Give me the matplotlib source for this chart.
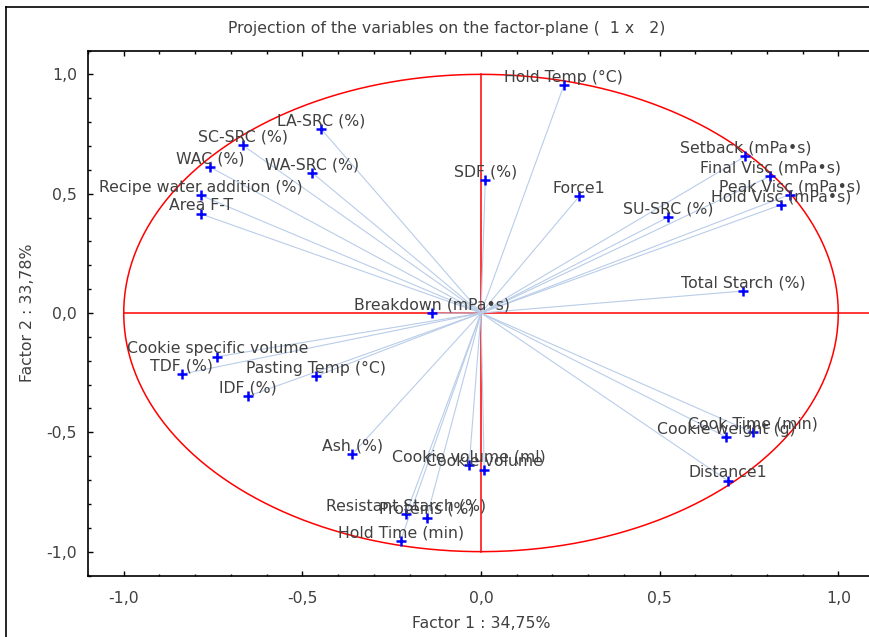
import numpy as np
import matplotlib
matplotlib.use("Agg")
import matplotlib.pyplot as plt
from matplotlib.lines import Line2D
from matplotlib.ticker import MultipleLocator, FuncFormatter

# factor loadings of each variable on factors 1 and 2
variables = [
    "LA-SRC (%)", "SC-SRC (%)", "WAC (%)", "WA-SRC (%)",
    "Recipe water addition (%)", "Area F-T", "SDF (%)", "Breakdown (mPa\u2022s)",
    "Hold Temp (\u00b0C)", "Force1", "SU-SRC (%)", "Setback (mPa\u2022s)",
    "Final Visc (mPa\u2022s)", "Peak Visc (mPa\u2022s)", "Hold Visc (mPa\u2022s)",
    "Total Starch (%)", "Cookie specific volume", "TDF (%)",
    "Pasting Temp (\u00b0C)", "IDF (%)", "Ash (%)", "Cookie volume (ml)",
    "Cookie volume", "Resistant Starch (%)", "Proteins (%)",
    "Hold Time (min)", "Cookie weight (g)", "Cook Time (min)", "Distance1",
]
factor1 = [
    -0.448, -0.667, -0.758, -0.472, -0.784, -0.784, 0.012, -0.138,
    0.232, 0.275, 0.524, 0.740, 0.810, 0.864, 0.841, 0.733,
    -0.738, -0.837, -0.462, -0.653, -0.360, -0.033, 0.009,
    -0.210, -0.152, -0.225, 0.687, 0.760, 0.690,
]
factor2 = [
    0.772, 0.703, 0.611, 0.587, 0.493, 0.415, 0.556, -0.001,
    0.954, 0.489, 0.402, 0.657, 0.574, 0.496, 0.454, 0.092,
    -0.183, -0.256, -0.265, -0.349, -0.591, -0.636, -0.657,
    -0.842, -0.857, -0.954, -0.520, -0.500, -0.702,
]
x_label = "Factor 1 : 34,75%"
y_label = "Factor 2 : 33,78%"
title = "Projection of the variables on the factor-plane (  1 x   2)"

txt = "#404040"
fs = 11.3
plt.rcParams["font.family"] = ["DejaVu Sans"]

fig = plt.figure(figsize=(8.70, 6.37), dpi=100)
# the plot area runs a few pixels past the right edge of the window
ax = fig.add_axes([88 / 870, 61.5 / 637, 786 / 870, 525 / 637])
ax.set_xlim(-1.1, 1.1)
ax.set_ylim(-1.1, 1.1)
ax.spines["right"].set_visible(False)

# unit circle and the two axes through the origin
t = np.linspace(0, 2 * np.pi, 400)
ax.plot(np.cos(t), np.sin(t), color="#ff0000", lw=1.1, zorder=2)
ax.plot([-1, 1.1], [0, 0], color="#ff0000", lw=1.1, zorder=2)
ax.plot([0, 0], [-1, 1], color="#ff0000", lw=1.1, zorder=2)

for name, fx, fy in zip(variables, factor1, factor2):
    ax.plot([0, fx], [0, fy], color="#b9cde9", lw=0.8, zorder=3)
    ax.plot(fx, fy, marker="+", color="#0000ff", ms=7.5, mew=1.8, zorder=5)
    ax.annotate(name, (fx, fy), xytext=(0, 5.8), textcoords="offset points",
                ha="center", va="center", fontsize=fs, color=txt, zorder=6)

ax.xaxis.set_major_locator(MultipleLocator(0.5))
ax.xaxis.set_minor_locator(MultipleLocator(0.1))
ax.yaxis.set_major_locator(MultipleLocator(0.5))
ax.yaxis.set_minor_locator(MultipleLocator(0.1))
comma = FuncFormatter(lambda v, p: ("%.1f" % v).replace(".", ","))
ax.xaxis.set_major_formatter(comma)
ax.yaxis.set_major_formatter(comma)
ax.tick_params(which="both", direction="in", top=True, right=True,
               colors="black", labelcolor=txt, labelsize=fs, width=1)
ax.tick_params(which="major", length=3.5)
ax.tick_params(which="minor", length=1.8)
ax.tick_params(axis="x", pad=11)
ax.tick_params(axis="y", pad=8)
for s in ax.spines.values():
    s.set_linewidth(1.2)

fig.text(481 / 870, 1 - 623 / 637, x_label, ha="center", va="center",
         fontsize=fs, color=txt)
fig.text(28 / 870, 1 - 313 / 637, y_label, ha="center", va="center",
         rotation=90, fontsize=fs, color=txt)
fig.text(447 / 870, 1 - 29 / 637, title, ha="center", va="center",
         fontsize=fs, color=txt)

# outer frame of the graph window (only top and left edges fall inside)
top = 1 - 6.5 / 637
left = 6.5 / 870
fig.add_artist(Line2D([left, 1.0], [top, top], transform=fig.transFigure,
                      color="black", lw=1.2))
fig.add_artist(Line2D([left, left], [0.0, top], transform=fig.transFigure,
                      color="black", lw=1.2))

fig.savefig("out.png", dpi=100)
